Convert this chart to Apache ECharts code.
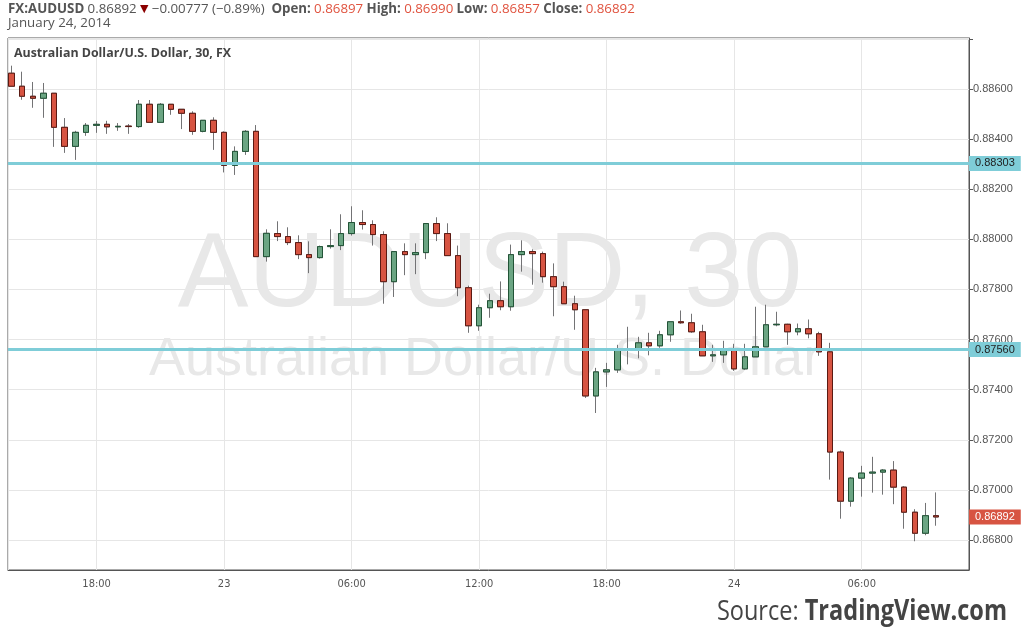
<!DOCTYPE html>
<html>
<head>
<meta charset="utf-8">
<script src="https://cdn.jsdelivr.net/npm/echarts@6/dist/echarts.min.js"></script>
<style>
html,body{margin:0;padding:0;background:#fff;}
#chart{width:1021px;height:640px;}
</style>
</head>
<body>
<div id="chart"></div>
<script>
// 30-minute candles, first candle Jan 22 14:00 (hours counted from Jan 22 00:00)
const startHour = 14;
const stepHours = 0.5;
const open = [0.88663,0.88611,0.88571,0.88563,0.88583,0.88447,0.88371,0.88427,0.88455,0.88459,
0.88449,0.88452,0.8845,0.88539,0.88467,0.88539,0.88519,0.88503,0.88431,0.88475,
0.88427,0.88295,0.88351,0.88431,0.87931,0.88023,0.88011,0.87987,0.87939,0.87927,
0.87971,0.87975,0.88023,0.88067,0.88059,0.88019,0.87831,0.87951,0.87939,0.87947,
0.88063,0.88023,0.87935,0.87807,0.87655,0.87727,0.87755,0.87731,0.87939,0.87951,
0.87943,0.87851,0.87811,0.87743,0.87719,0.87375,0.87471,0.87479,0.87559,0.87563,
0.87587,0.87575,0.87619,0.87671,0.87667,0.87631,0.87535,0.87539,0.87563,0.87483,
0.87531,0.87571,0.87659,0.87661,0.87631,0.87643,0.87623,0.87551,0.87151,0.86955,
0.87047,0.87067,0.87071,0.87079,0.87011,0.86911,0.86827,0.86897];
const high = [0.88693,0.88669,0.88628,0.88624,0.88583,0.88484,0.88433,0.88464,0.88472,0.88473,
0.88464,0.8846,0.88556,0.88556,0.88544,0.88539,0.88519,0.88511,0.88475,0.88487,
0.88431,0.88371,0.88436,0.88456,0.8804,0.88072,0.88048,0.88016,0.87992,0.87975,
0.8804,0.881,0.88132,0.88116,0.88076,0.88032,0.87951,0.87984,0.87984,0.88063,
0.88088,0.88064,0.87975,0.87815,0.87739,0.87783,0.87832,0.87979,0.87996,0.8796,
0.87951,0.87904,0.87831,0.87775,0.87719,0.87487,0.87507,0.87579,0.87651,0.87611,
0.87627,0.87635,0.87671,0.87716,0.87703,0.87659,0.87579,0.87595,0.87583,0.87583,
0.87731,0.87739,0.87711,0.87663,0.87664,0.8768,0.87631,0.87587,0.87157,0.87051,
0.87096,0.87132,0.87083,0.87115,0.87015,0.86923,0.86948,0.8699];
const low = [0.88611,0.88557,0.88525,0.88485,0.88369,0.88345,0.88317,0.88413,0.88425,0.88421,
0.88433,0.88421,0.88445,0.88467,0.88467,0.88497,0.8844,0.88417,0.88427,0.88357,
0.88267,0.88257,0.88337,0.87931,0.87911,0.87993,0.87977,0.87921,0.87865,0.87923,
0.87963,0.87957,0.88015,0.88039,0.87975,0.87743,0.8777,0.87857,0.87861,0.87921,
0.87993,0.87935,0.87773,0.87627,0.87635,0.87687,0.87717,0.87715,0.87871,0.87819,
0.87827,0.87693,0.87743,0.87639,0.87367,0.87307,0.87411,0.87467,0.87501,0.87525,
0.87537,0.87567,0.87591,0.87663,0.87627,0.87535,0.87511,0.87507,0.87475,0.87479,
0.87531,0.87571,0.87653,0.87579,0.87617,0.87605,0.87535,0.87041,0.86885,0.86933,
0.86973,0.86989,0.86981,0.86943,0.86845,0.86795,0.86819,0.86857];
const close = [0.88611,0.88571,0.88563,0.88583,0.88447,0.88371,0.88427,0.88455,0.88459,0.88449,
0.88451,0.8845,0.88539,0.88467,0.88539,0.88519,0.88503,0.88431,0.88475,0.88427,
0.88295,0.88351,0.88431,0.87931,0.88024,0.88011,0.87987,0.87939,0.87927,0.87971,
0.87975,0.88023,0.88067,0.88059,0.88019,0.87831,0.87951,0.87939,0.87947,0.88063,
0.88023,0.87935,0.87807,0.87655,0.87727,0.87755,0.87731,0.87939,0.87951,0.87943,
0.87851,0.87811,0.87743,0.87719,0.87375,0.87471,0.87479,0.87559,0.87562,0.87587,
0.87575,0.87619,0.87671,0.87667,0.87631,0.87535,0.87539,0.87563,0.87483,0.87531,
0.87571,0.87659,0.87661,0.87631,0.87643,0.87623,0.87551,0.87151,0.86955,0.87047,
0.87067,0.87071,0.87079,0.87011,0.86911,0.86827,0.86897,0.86892];

const levelLines = [0.88303, 0.87560];
const lastPrice = 0.86892;

const xTickHours = [18, 24, 30, 36, 42, 48, 54];
const xTickLabels = ['18:00', '23', '06:00', '12:00', '18:00', '24', '06:00'];
const yTickValues = [0.868, 0.870, 0.872, 0.874, 0.876, 0.878, 0.880, 0.882, 0.884, 0.886];

const times = open.map((_, i) => startHour + stepHours * i);
const wickData = open.map((o, i) => [times[i], o, close[i], low[i], high[i]]);
const bodyData = open.map((o, i) => [times[i], o, close[i], Math.min(o, close[i]), Math.max(o, close[i])]);

const UP = '#6ba583', DOWN = '#d75442', UPB = '#225437', DOWNB = '#5b1a13', WICK = '#737375', LEVEL = '#7fcdd8';

const priceLabel = (bg, fg) => ({
  position: 'end', distance: 0, formatter: p => Number(p.value).toFixed(5),
  backgroundColor: bg, color: fg, fontSize: 11, fontFamily: 'Liberation Sans, Arial', padding: [2, 6, 2, 6]
});

const chart = echarts.init(document.getElementById('chart'), null, {renderer: 'canvas'});
chart.setOption({
  animation: false,
  backgroundColor: '#ffffff',
  grid: {left: 8, top: 38, width: 961, height: 532, show: true, borderColor: '#555', borderWidth: 1, backgroundColor: 'transparent'},
  xAxis: {
    type: 'value', min: 13.83, max: 59.05, minInterval: 6, maxInterval: 6,
    axisLine: {show: true, lineStyle: {color: '#555'}},
    axisTick: {show: false},
    splitLine: {show: true, lineStyle: {color: '#e6e6e6'}},
    axisLabel: {
      color: '#555', fontSize: 11, fontFamily: 'DejaVu Sans Condensed, Liberation Sans Narrow, Arial', margin: 9,
      showMinLabel: false, showMaxLabel: false,
      formatter: v => { const k = xTickHours.indexOf(Math.round(v)); return k >= 0 && Math.abs(v - xTickHours[k]) < 1e-6 ? xTickLabels[k] : ''; }
    }
  },
  yAxis: {
    type: 'value', position: 'right', min: 0.866803, max: 0.888035, minInterval: 0.002, maxInterval: 0.002,
    axisLine: {show: true, lineStyle: {color: '#555'}},
    axisTick: {show: true, length: 4, lineStyle: {color: '#555'}},
    splitLine: {show: true, lineStyle: {color: '#e6e6e6'}},
    axisLabel: {
      color: '#555', fontSize: 11, fontFamily: 'Liberation Sans, Arial', margin: 4,
      showMinLabel: false, showMaxLabel: false,
      formatter: v => yTickValues.some(t => Math.abs(t - v) < 1e-7) ? v.toFixed(5) : ''
    }
  },
  graphic: [
    {type: 'text', left: 8, top: 3, z: 10, style: {
      text: '{b|FX:AUDUSD} {n|0.86892} {t|▼} {n|−0.00777 (−0.89%)}  {b|Open:} {r|0.86897} {b|High:} {r|0.86990} {b|Low:} {r|0.86857} {b|Close:} {r|0.86892}',
      rich: {
        b: {fontFamily: 'Open Sans', fontWeight: 'bold', fontSize: 13.3, fill: '#555'},
        n: {fontFamily: 'Open Sans', fontSize: 13.3, fill: '#555'},
        t: {fontFamily: 'DejaVu Sans', fontSize: 11, fill: '#8b0000'},
        r: {fontFamily: 'Open Sans', fontSize: 13.3, fill: '#e0533f'}
      }
    }},
    {type: 'text', left: 8, top: 17, z: 10, style: {text: 'January 24, 2014', fontFamily: 'Open Sans', fontSize: 13.3, fill: '#555'}},
    {type: 'text', left: 14, top: 47, z: 10, style: {text: 'Australian Dollar/U.S. Dollar, 30, FX', fontFamily: 'Open Sans', fontWeight: 'bold', fontSize: 12.4, fill: '#444'}},
    {type: 'text', x: 490, y: 277, z: 1, style: {text: 'AUDUSD, 30', fontFamily: 'Liberation Sans', fontSize: 106, fill: '#e8e8e8', align: 'center', verticalAlign: 'middle'}},
    {type: 'text', x: 485, y: 360, z: 1, style: {text: 'Australian Dollar/U.S. Dollar', fontFamily: 'Liberation Sans', fontSize: 54, fill: '#e8e8e8', align: 'center', verticalAlign: 'middle'}},
    {type: 'text', x: 1007, y: 612, scaleX: 0.84, z: 10, style: {
      text: '{n|Source: }{b|TradingView.com}', align: 'right', verticalAlign: 'middle',
      rich: {
        n: {fontFamily: 'Open Sans', fontSize: 28, fill: '#444'},
        b: {fontFamily: 'Open Sans', fontWeight: 'bold', fontSize: 28, fill: '#444'}
      }
    }}
  ],
  series: [
    {
      type: 'candlestick', name: 'wick', data: wickData, barWidth: 6,
      encode: {x: 0, y: [1, 2, 3, 4]},
      itemStyle: {color: WICK, color0: WICK, borderColor: WICK, borderColor0: WICK, borderColorDoji: WICK, borderWidth: 1},
      emphasis: {disabled: true}, z: 3
    },
    {
      type: 'candlestick', name: 'body', data: bodyData, barWidth: 6,
      encode: {x: 0, y: [1, 2, 3, 4]},
      itemStyle: {color: UP, color0: DOWN, borderColor: UPB, borderColor0: DOWNB, borderColorDoji: UPB, borderWidth: 1},
      emphasis: {disabled: true}, z: 4,
      markLine: {
        silent: true, symbol: ['none', 'none'], animation: false, precision: 5,
        data: [
          {yAxis: levelLines[0], lineStyle: {color: LEVEL, width: 3, type: 'solid'}, label: priceLabel(LEVEL, '#222')},
          {yAxis: levelLines[1], lineStyle: {color: LEVEL, width: 3, type: 'solid'}, label: priceLabel(LEVEL, '#222')},
          {yAxis: lastPrice, lineStyle: {color: 'rgba(0,0,0,0)', width: 0}, label: priceLabel(DOWN, '#fff')}
        ]
      }
    }
  ]
});
</script>
</body>
</html>
